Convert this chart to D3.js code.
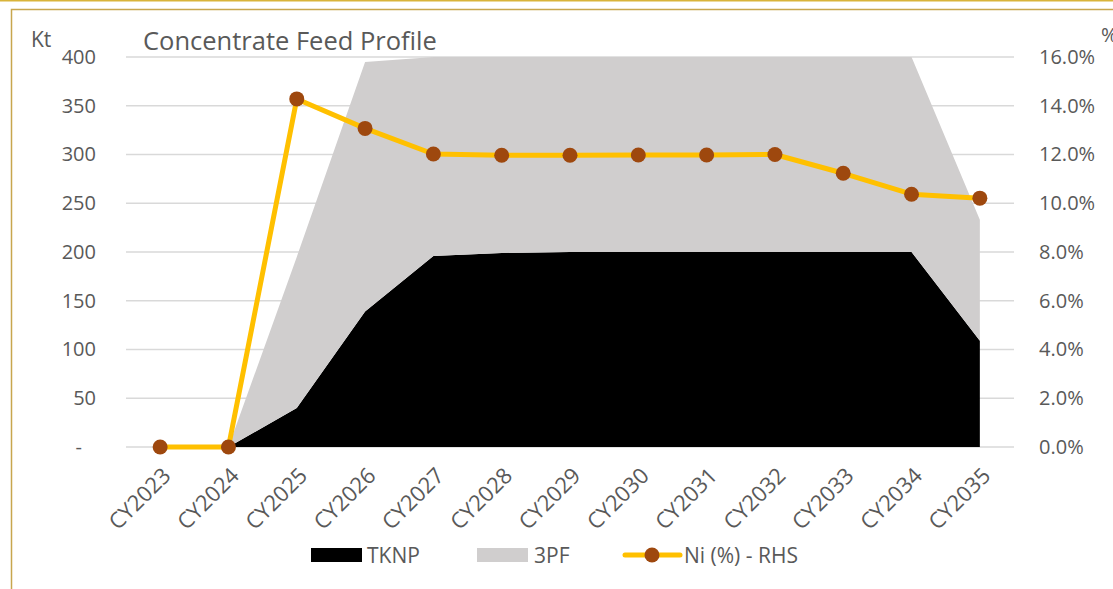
<!DOCTYPE html>
<html>
<head>
<meta charset="utf-8">
<script src="https://cdn.jsdelivr.net/npm/d3@7"></script>
<style>
  body { margin: 0; background: #fff; }
  svg { display: block; font-family: "Open Sans", sans-serif; }
</style>
</head>
<body>
<svg width="1113" height="589"></svg>
<script>
// data
var years = ["CY2023","CY2024","CY2025","CY2026","CY2027","CY2028","CY2029",
             "CY2030","CY2031","CY2032","CY2033","CY2034","CY2035"];
var tknp = [0, 0, 40, 139, 196, 199, 200, 200, 200, 200, 200, 200, 109];
var pf3  = [0, 0, 155, 256, 204, 201, 200, 200, 200, 200, 200, 200, 124];
var ni   = [0, 0, 14.28, 13.07, 12.02, 11.97, 11.97, 11.98, 11.98, 12.0, 11.23, 10.37, 10.21];
var leftTicks = [0, 50, 100, 150, 200, 250, 300, 350, 400];
var rightTicks = [0, 2, 4, 6, 8, 10, 12, 14, 16];

var svg = d3.select("svg");
var width = +svg.attr("width");
var height = +svg.attr("height");

var margin = {left: 126, right: 99, top: 57, bottom: 142};
var x0 = margin.left, x1 = width - margin.right;
var y0 = height - margin.bottom, y1 = margin.top;

var x = d3.scaleBand().domain(years).range([x0, x1]);
var xc = function(d) { return x(d) + x.bandwidth() / 2; };
var y = d3.scaleLinear().domain([0, 400]).range([y0, y1]);
var yR = d3.scaleLinear().domain([0, 16]).range([y0, y1]);

// frame lines
svg.append("line").attr("x1", 0).attr("x2", width).attr("y1", 0.5).attr("y2", 0.5)
  .attr("stroke", "#d9b43a").attr("stroke-width", 2);
svg.append("path").attr("d", "M11.5," + height + "V9.5H" + width)
  .attr("fill", "none").attr("stroke", "#c8a64e").attr("stroke-width", 1.5);

// gridlines
svg.append("g").selectAll("line").data(leftTicks).enter().append("line")
  .attr("x1", x0).attr("x2", x1)
  .attr("y1", function(d) { return y(d); }).attr("y2", function(d) { return y(d); })
  .attr("stroke", "#d9d9d9").attr("stroke-width", 1.5);

// stacked areas
var rows = years.map(function(yr, i) { return {year: yr, TKNP: tknp[i], PF3: pf3[i]}; });
var stack = d3.stack().keys(["TKNP", "PF3"])(rows);
var colors = {TKNP: "#000000", PF3: "#d0cece"};
var area = d3.area()
  .x(function(d) { return xc(d.data.year); })
  .y0(function(d) { return y(d[0]); })
  .y1(function(d) { return y(Math.min(d[1], 400)); });
svg.append("g").selectAll("path").data(stack).enter().append("path")
  .attr("d", area)
  .attr("fill", function(d) { return colors[d.key]; });

// Ni line
var line = d3.line()
  .x(function(d, i) { return xc(years[i]); })
  .y(function(d) { return yR(d); });
svg.append("path").datum(ni).attr("d", line)
  .attr("fill", "none").attr("stroke", "#ffc000").attr("stroke-width", 5)
  .attr("stroke-linejoin", "round");
svg.append("g").selectAll("circle").data(ni).enter().append("circle")
  .attr("cx", function(d, i) { return xc(years[i]); })
  .attr("cy", function(d) { return yR(d); })
  .attr("r", 7.5)
  .attr("fill", "#9e480e");

// axes
var tickStyle = function(g) {
  g.select(".domain").remove();
  g.selectAll(".tick line").remove();
  g.selectAll("text").attr("fill", "#595959").style("font-size", "20px")
    .style("font-family", "'Open Sans', sans-serif");
};
svg.append("g").attr("transform", "translate(" + (x0 - 27) + ",0)")
  .call(d3.axisLeft(y).tickValues(leftTicks).tickSize(0)
    .tickFormat(function(d) { return d === 0 ? "-" : d; }))
  .call(tickStyle)
  .call(function(g) { g.selectAll(".tick").filter(function(d) { return d === 0; })
    .select("text").attr("dx", -14); });

svg.append("g").attr("transform", "translate(" + (x1 + 22) + ",0)")
  .call(d3.axisRight(yR).tickValues(rightTicks).tickSize(0)
    .tickFormat(function(d) { return d3.format(".1f")(d) + "%"; }))
  .call(tickStyle);

var xAxis = svg.append("g").attr("transform", "translate(0," + y0 + ")")
  .call(d3.axisBottom(x).tickSize(0))
  .call(tickStyle);
xAxis.selectAll("text")
  .style("font-size", "22px")
  .attr("text-anchor", "end")
  .attr("dy", null)
  .attr("y", 0)
  .attr("transform", "translate(12,30) rotate(-45)");

// titles
svg.append("text").attr("x", 143).attr("y", 50).text("Concentrate Feed Profile")
  .attr("fill", "#595959").style("font-size", "25.5px");
svg.append("text").attr("x", 31).attr("y", 47).text("Kt")
  .attr("fill", "#595959").style("font-size", "21px");
svg.append("text").attr("x", 1101).attr("y", 42).text("%")
  .attr("fill", "#595959").style("font-size", "20px");

// legend
var lg = svg.append("g").attr("transform", "translate(0,555)");
lg.append("rect").attr("x", 311).attr("y", -7).attr("width", 51).attr("height", 14).attr("fill", colors.TKNP);
lg.append("text").attr("x", 367).attr("y", 7.5).text("TKNP");
lg.append("rect").attr("x", 477).attr("y", -7).attr("width", 51).attr("height", 14).attr("fill", colors.PF3);
lg.append("text").attr("x", 534).attr("y", 7.5).text("3PF");
lg.append("line").attr("x1", 625).attr("x2", 680).attr("y1", 0).attr("y2", 0)
  .attr("stroke", "#ffc000").attr("stroke-width", 5).attr("stroke-linecap", "round");
lg.append("circle").attr("cx", 652).attr("cy", 0).attr("r", 7.5).attr("fill", "#9e480e");
lg.append("text").attr("x", 684).attr("y", 7.5).text("Ni (%) - RHS");
lg.selectAll("text").attr("fill", "#595959").style("font-size", "21px");
</script>
</body>
</html>
